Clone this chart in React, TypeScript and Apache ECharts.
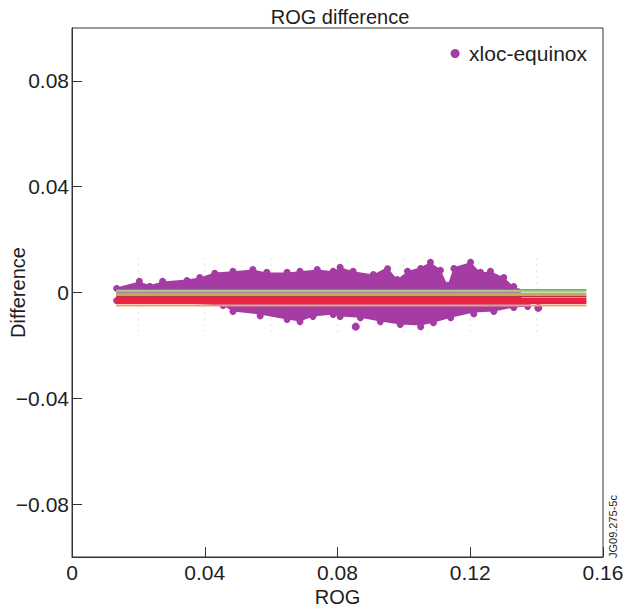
import React, { useEffect, useRef } from "react";
import * as echarts from "echarts";

// Purple band (xloc-equinox) envelope
const bandTopX = [0.0134, 0.0203, 0.0234, 0.0273, 0.0346, 0.0385, 0.043, 0.0485, 0.0545, 0.0587, 0.0648, 0.0687, 0.0739, 0.0787, 0.0808, 0.0847, 0.0908, 0.095, 0.098, 0.1011, 0.105, 0.108, 0.111, 0.1132, 0.115, 0.1201, 0.1231, 0.1261, 0.1301, 0.1331, 0.1343];
const bandTopY = [0.0019, 0.0042, 0.0027, 0.0042, 0.0049, 0.0057, 0.0076, 0.008, 0.0087, 0.0076, 0.0076, 0.008, 0.0087, 0.008, 0.0095, 0.008, 0.0068, 0.0095, 0.0049, 0.008, 0.0095, 0.0114, 0.0087, 0.0027, 0.0095, 0.0114, 0.0076, 0.008, 0.0057, 0.0023, 0.0004];
const bandBotX = [0.0134, 0.0455, 0.0485, 0.0566, 0.0648, 0.0687, 0.0726, 0.0787, 0.0808, 0.0869, 0.0929, 0.0989, 0.105, 0.1089, 0.1141, 0.121, 0.1271, 0.1331, 0.1373];
const bandBotY = [-0.0027, -0.0049, -0.0072, -0.0083, -0.0102, -0.011, -0.0091, -0.0083, -0.0091, -0.0095, -0.011, -0.0121, -0.0125, -0.0114, -0.0095, -0.0076, -0.0072, -0.0057, -0.0053];
const outliers = [[0.0855, -0.0129], [0.1405, -0.0058]];

// Horizontal reference lines
const lineStartX = 0.0133;
const lineEndX = 0.155;
const lineNames = ["gray", "green", "tan", "darkred", "red", "orange"];
const lineLevels = [0.0011, 0.00045, -0.0008, -0.0016, -0.0032, -0.0049];
const lineColors = ["#7e8c78", "#9ec97f", "#c8a468", "#b8353a", "#ec2242", "#f49a6c"];
const lineWidths = [1, 2.5, 3, 1.5, 6, 2];

// faint dotted grid in the data region
const dotGridX = [0.02, 0.04, 0.06, 0.08, 0.1, 0.12, 0.14];
const dotGridTop = 0.013;
const dotGridBottom = -0.016;

const xTicks = [0, 0.04, 0.08, 0.12, 0.16];
const yTicks = [-0.08, -0.04, 0, 0.04, 0.08];

const PURPLE = "#a43ca4";
const FONT = "Liberation Sans";
const INK = "#1e1e1e";

function fmt(v: number) {
  const s = String(parseFloat(v.toFixed(2)));
  return s.replace("-", "\u2212");
}

export default function App() {
  const ref = useRef<HTMLDivElement>(null);
  useEffect(() => {
    document.body.style.margin = "0";
    const chart = echarts.init(ref.current!, null, { renderer: "svg" });
    const topPts: number[][] = bandTopX.map((x, i) => [x, bandTopY[i]]);
    const botPts: number[][] = bandBotX.map((x, i) => [x, bandBotY[i]]);
    const polyPts: number[][] = topPts.concat(botPts.slice().reverse());

    const lineSeries = lineNames.map((n, i) => ({
      name: n,
      type: "line",
      data: [[lineStartX, lineLevels[i]], [lineEndX, lineLevels[i]]],
      showSymbol: false,
      lineStyle: { color: lineColors[i], width: lineWidths[i] },
      z: 5 + i,
      silent: true,
    }));

    chart.setOption({
      animation: false,
      textStyle: { fontFamily: FONT },
      title: {
        text: "ROG difference",
        left: 335,
        textAlign: "center",
        top: 2,
        textStyle: { fontSize: 20, fontWeight: "normal", color: INK, fontFamily: FONT },
      },
      legend: {
        data: [{ name: "xloc-equinox", icon: "circle" }],
        right: 32,
        top: 38,
        itemWidth: 18,
        itemHeight: 9,
        itemGap: 6,
        textStyle: { fontSize: 21, color: INK, fontFamily: FONT },
      },
      grid: {
        left: 72,
        right: 21,
        top: 28,
        bottom: 58,
        show: true,
        borderColor: "#333",
        borderWidth: 1,
        outerBoundsMode: "none",
        containLabel: false,
      },
      xAxis: {
        type: "value",
        min: 0,
        max: 0.16,
        interval: 0.04,
        name: "ROG",
        nameLocation: "middle",
        nameGap: 30,
        nameMoveOverlap: false,
        nameTextStyle: { fontSize: 20, color: INK, fontFamily: FONT },
        axisLine: { onZero: false, lineStyle: { color: "#333" } },
        axisTick: { inside: true, length: 10, lineStyle: { color: "#333" } },
        axisLabel: { fontSize: 21, color: INK, margin: 5, formatter: (v: number) => fmt(v) },
        splitLine: { show: false },
      },
      yAxis: {
        type: "value",
        min: -0.1,
        max: 0.1,
        interval: 0.02,
        name: "Difference",
        nameLocation: "middle",
        nameGap: 44,
        nameMoveOverlap: false,
        nameTextStyle: { fontSize: 20, color: INK, fontFamily: FONT },
        axisLine: { show: true, onZero: false, lineStyle: { color: "#333" } },
        axisTick: { inside: true, length: 10, lineStyle: { color: "#333" }, customValues: yTicks },
        axisLabel: { fontSize: 21, color: INK, margin: 3, customValues: yTicks, formatter: (v: number) => fmt(v) },
        splitLine: { show: false },
      },
      series: [
        {
          name: "grid-dots",
          type: "custom",
          silent: true,
          z: 0,
          data: dotGridX.map((x) => [x, dotGridTop, dotGridBottom]),
          renderItem: (params: any, api: any) => {
            const a = api.coord([api.value(0), api.value(1)]);
            const b = api.coord([api.value(0), api.value(2)]);
            return {
              type: "line",
              shape: { x1: a[0], y1: a[1], x2: b[0], y2: b[1] },
              style: { stroke: "#e2e2e2", lineWidth: 1, lineDash: [2, 4] },
            };
          },
        },
        {
          name: "xloc-equinox",
          type: "custom",
          z: 2,
          itemStyle: { color: PURPLE },
          data: [[bandTopX[0], bandTopY[0]]],
          renderItem: (params: any, api: any) => {
            if (params.dataIndex !== 0) return null;
            const pts = polyPts.map((p) => api.coord(p));
            const children: any[] = [
              {
                type: "polygon",
                shape: { points: pts },
                style: { fill: PURPLE },
              },
            ];
            pts.forEach((p) => {
              children.push({ type: "circle", shape: { cx: p[0], cy: p[1], r: 3.5 }, style: { fill: PURPLE } });
            });
            return { type: "group", children };
          },
        },
        {
          name: "xloc-equinox",
          type: "scatter",
          z: 3,
          symbolSize: 8,
          itemStyle: { color: PURPLE, opacity: 1 },
          data: outliers,
        },
        ...lineSeries,
      ],
      graphic: [
        {
          type: "text",
          x: 613,
          y: 558,
          rotation: Math.PI / 2,
          style: { text: "JG09.275-5c", fontSize: 11, fill: INK, fontFamily: FONT, textAlign: "left", textVerticalAlign: "middle" },
        },
      ],
    });
    return () => chart.dispose();
  }, []);
  return <div ref={ref} style={{ width: 624, height: 615 }} />;
}
